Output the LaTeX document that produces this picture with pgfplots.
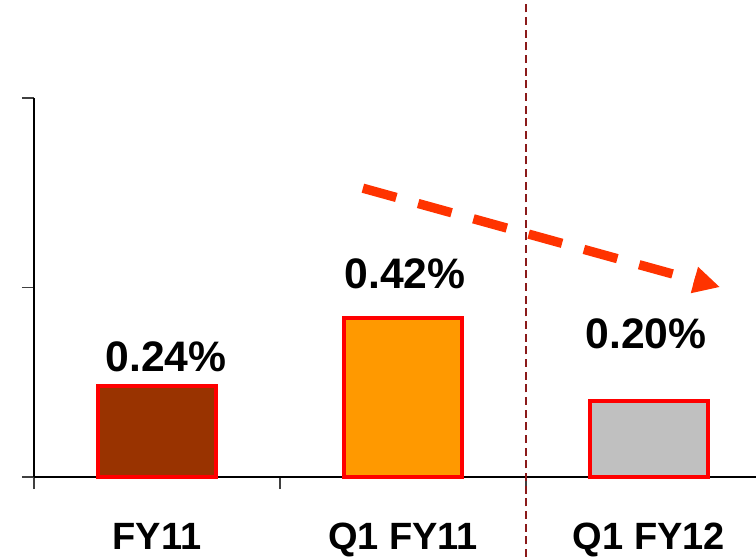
\documentclass[border=0pt]{standalone}
\usepackage{fontspec}
\setmainfont{Liberation Sans}
\usepackage{pgfplots}
\pgfplotsset{compat=1.18}
\usetikzlibrary{arrows.meta}
\definecolor{cFY}{HTML}{993300}
\definecolor{cQa}{HTML}{FF9900}
\definecolor{cQb}{HTML}{C0C0C0}
\definecolor{arr}{HTML}{FF3300}
\definecolor{vline}{HTML}{8B1A1A}
\begin{document}
\begin{tikzpicture}
\useasboundingbox (-25.5pt,-60pt) rectangle (541.5pt,357.75pt);
\begin{axis}[
  at={(0pt,0pt)}, anchor=south west,
  scale only axis, width=541.5pt, height=284.25pt,
  xmin=-0.5, xmax=2.435, ymin=0, ymax=1,
  clip=false,
  axis x line=bottom, axis y line=left,
  axis line style={-, black, line width=0.9pt},
  tick align=outside, major tick length=9pt,
  tick style={black!75, line width=0.9pt},
  xtick={-0.5,0.5,1.5}, xticklabels={},
  ytick={0,0.5,1}, yticklabels={},
  extra x ticks={0,1,2},
  extra x tick labels={FY11,Q1 FY11,Q1 FY12},
  extra x tick style={major tick length=0pt,
     tick label style={anchor=base, yshift=-54pt, font=\fontsize{28.5}{32}\selectfont\bfseries}},
]
\addplot[ybar, bar shift=0pt, bar width=0.476, fill=cFY, draw=red, line width=3pt] coordinates {(0,0.24)};
\addplot[ybar, bar shift=0pt, bar width=0.476, fill=cQa, draw=red, line width=3pt] coordinates {(1,0.42)};
\addplot[ybar, bar shift=0pt, bar width=0.476, fill=cQb, draw=red, line width=3pt] coordinates {(2,0.20)};
\draw[vline, line width=1.5pt, dash pattern=on 6pt off 3.5pt] (axis cs:1.5,-0.211) -- (axis cs:1.5,1.258);
\draw[arr, line width=7pt, dash pattern=on 26pt off 17pt, -{Triangle[length=20pt,width=19pt]}] (axis cs:0.837,0.762) -- (axis cs:2.289,0.501);
\node[font=\fontsize{32}{36}\selectfont\bfseries] at (axis cs:0.037,0.317) {0.24\%};
\node[font=\fontsize{32}{36}\selectfont\bfseries] at (axis cs:1.008,0.536) {0.42\%};
\node[font=\fontsize{32}{36}\selectfont\bfseries] at (axis cs:1.988,0.377) {0.20\%};
\end{axis}
\end{tikzpicture}
\end{document}
